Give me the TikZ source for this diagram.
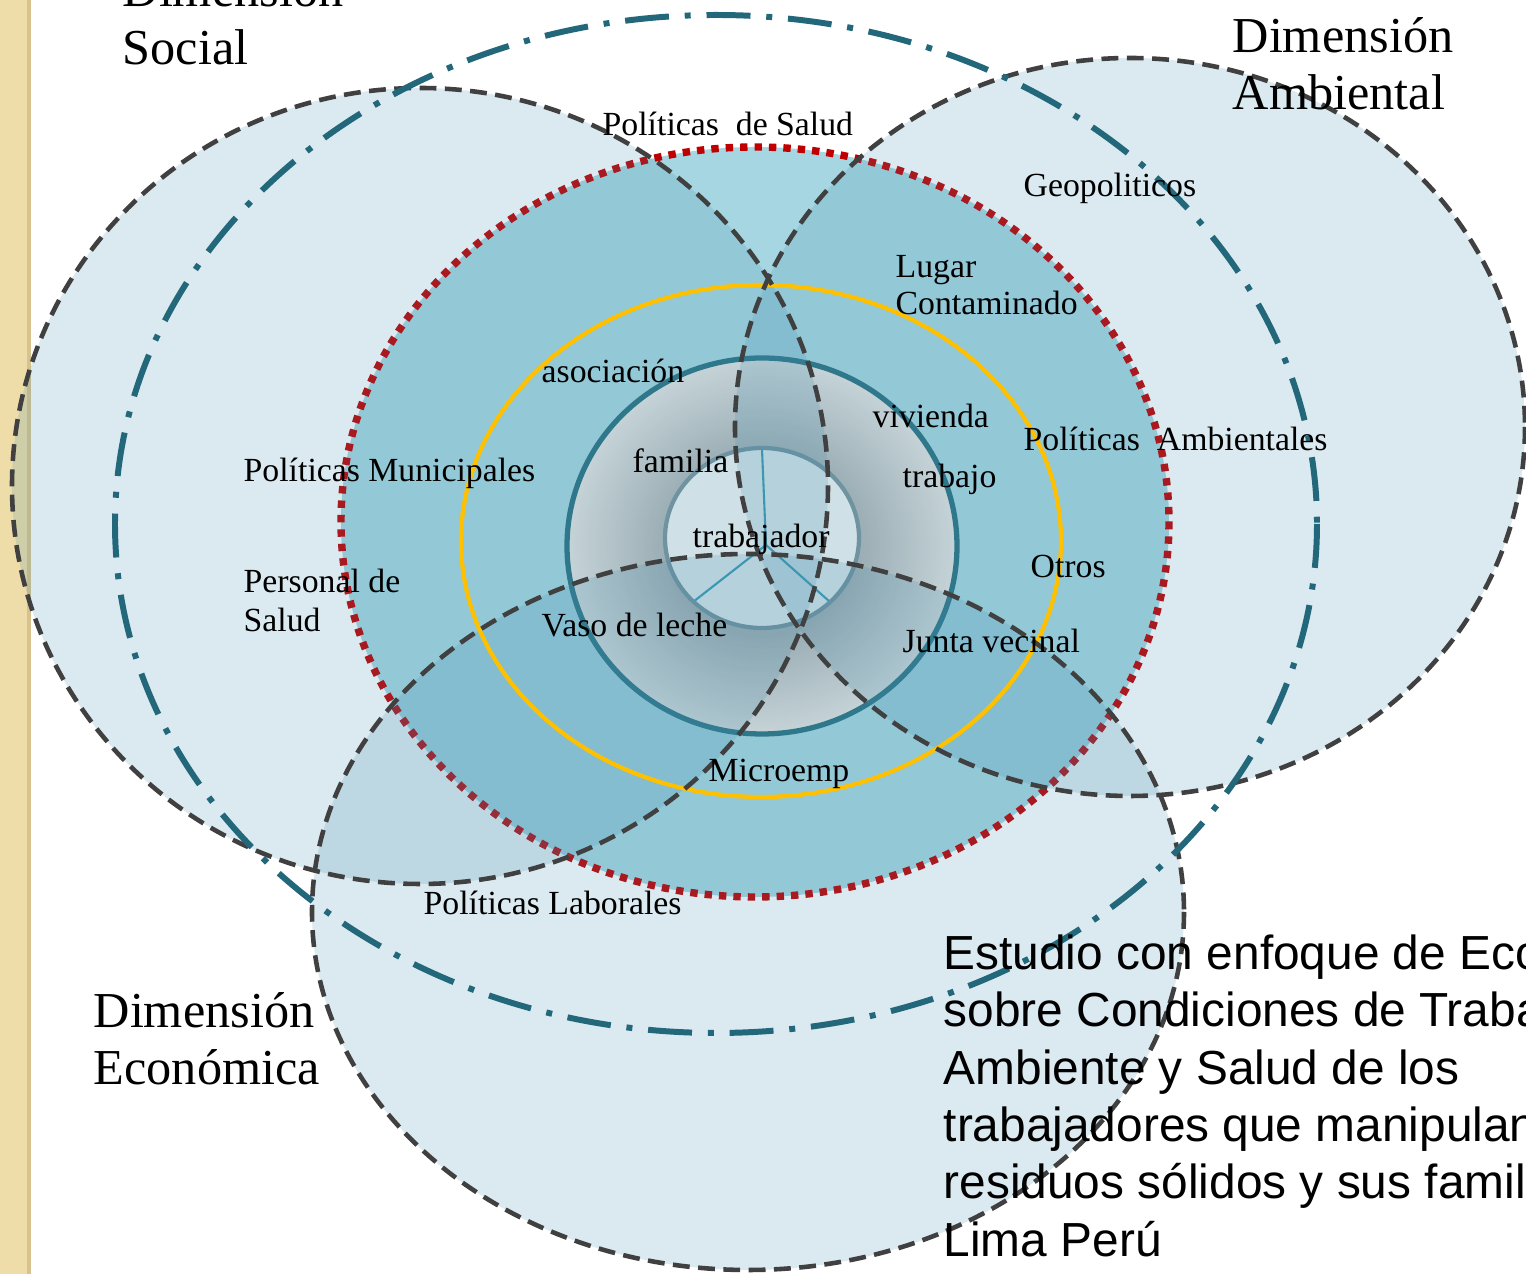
\documentclass[tikz,border=0pt]{standalone}
\usepackage{fontspec}
\setmainfont{Liberation Serif}
\newfontfamily\sansfam{Liberation Sans}
\usetikzlibrary{calc}
\definecolor{stripc}{HTML}{EFDDA9}
\definecolor{stripd}{HTML}{D8C38E}
\definecolor{redfill}{HTML}{A6D6E1}
\definecolor{reddot}{HTML}{C00000}
\definecolor{ovl}{RGB}{65,141,174}
\definecolor{dashgray}{HTML}{404040}
\definecolor{ddteal}{HTML}{22687A}
\definecolor{yel}{HTML}{FFC000}
\definecolor{ringstroke}{HTML}{2C7383}
\definecolor{ringin}{HTML}{AEB4B5}
\definecolor{ringout}{HTML}{E4E4E2}
\definecolor{innerfill}{HTML}{F0F4F4}
\definecolor{innerstroke}{HTML}{7A959D}
\definecolor{spoke}{HTML}{3A9DB5}
\pgfdeclareradialshading{ringshade}{\pgfpoint{0bp}{0bp}}{color(0bp)=(ringin); color(12bp)=(ringin); color(25bp)=(ringout); color(50bp)=(ringout)}
\tikzset{
  dimfill/.style={fill=ovl, fill opacity=0.184, draw=none},
  dimline/.style={draw=dashgray, line width=1.3pt, dash pattern=on 4.8pt off 2.4pt},
  lab/.style={font=\fontsize{9.6}{11}\selectfont, anchor=base west, inner sep=0pt, text=black},
  biglab/.style={font=\fontsize{14.3}{16}\selectfont, anchor=base west, inner sep=0pt, text=black},
  sanslab/.style={font=\sansfam\fontsize{13.6}{16}\selectfont, anchor=base west, inner sep=0pt, text=black},
  spokeline/.style={draw=spoke, line width=0.6pt}
}
\begin{document}
\begin{tikzpicture}[x=0.01cm,y=-0.01cm]
\path[use as bounding box] (0,0) rectangle (1526,1274);
\clip (0,0) rectangle (1526,1274);
\fill[white] (0,0) rectangle (1526,1274);
% left decorative strip
\fill[stripc] (0,0) rectangle (30,1274);
\draw[stripd, line width=1pt] (29,0) -- (29,1274);

% red dotted circle with fill
\fill[redfill] (755,522) ellipse [x radius=414, y radius=375];
\draw[reddot, line width=2.1pt, dash pattern=on 2.1pt off 2pt] (755,522) ellipse [x radius=414, y radius=375];

% ring
\shade[shading=ringshade] (762,546) ellipse [x radius=195, y radius=188];
\draw[ringstroke, line width=1.5pt] (762,546) ellipse [x radius=195, y radius=188];

% inner circle
\fill[innerfill] (762,538) ellipse [x radius=97, y radius=90];
\coordinate (hub) at (766,545);
\coordinate (sp1) at (762,449);
\coordinate (sp2) at (693,602);
\coordinate (sp3) at (830,602);
\draw[spokeline] (hub) -- (sp1);
\draw[spokeline] (hub) -- (sp2);
\draw[spokeline] (hub) -- (sp3);
\draw[innerstroke, line width=1.2pt] (762,538) ellipse [x radius=97, y radius=90];

% translucent dimension ellipses
\path[dimfill] (420,486) ellipse [x radius=408, y radius=398];
\path[dimfill] (1130,427) ellipse [x radius=395, y radius=369];
\path[dimfill] (748,912) ellipse [x radius=436, y radius=358];

% yellow ellipse (bright, above the tints)
\draw[yel, line width=1.2pt] (761,541) ellipse [x radius=300, y radius=256];

\path[dimline] (420,486) ellipse [x radius=408, y radius=398];
\path[dimline] (1130,427) ellipse [x radius=395, y radius=369];
\path[dimline] (748,912) ellipse [x radius=436, y radius=358];

% dash-dot ellipse
\draw[ddteal, line width=1.7pt, dash pattern=on 12.5pt off 4.5pt on 1.7pt off 4.5pt] (716,524) ellipse [x radius=601, y radius=509];

% big labels
\node[biglab] (ds1) at (122,7) {Dimensión};
\node[biglab] (ds2) at (122,65) {Social};
\node[biglab] (da1) at (1232,53) {Dimensión};
\node[biglab] (da2) at (1232,110) {Ambiental};
\node[biglab] (de1) at (93,1028) {Dimensión};
\node[biglab] (de2) at (93,1085) {Económica};

% small labels
\node[lab] (psalud) at (602,136) {Políticas\ \ de Salud};
\node[lab] (geo) at (1023,197) {Geopoliticos};
\node[lab] (lug1) at (895,278) {Lugar};
\node[lab] (lug2) at (895,315) {Contaminado};
\node[lab] (asoc) at (541,383) {asociación};
\node[lab] (viv) at (872,428) {vivienda};
\node[lab] (pamb) at (1023,451) {Políticas\ \ Ambientales};
\node[lab] (pmun) at (243,482) {Políticas Municipales};
\node[lab] (fam) at (632,473) {familia};
\node[lab] (trab) at (902,488) {trabajo};
\node[lab] (trabr) at (692,548) {trabajador};
\node[lab] (otros) at (1030,578) {Otros};
\node[lab] (pers1) at (243,593) {Personal de};
\node[lab] (pers2) at (243,632) {Salud};
\node[lab] (vaso) at (541,637) {Vaso de leche};
\node[lab] (junta) at (902,653) {Junta vecinal};
\node[lab] (micro) at (708,782) {Microemp};
\node[lab] (plab) at (423,915) {Políticas Laborales};

% study text (clipped at right edge, as in the reference)
\node[sanslab] (st1) at (943,970) {Estudio con enfoque de Ecosalud};
\node[sanslab] (st2) at (943,1027) {sobre Condiciones de Trabajo,};
\node[sanslab] (st3) at (943,1085) {Ambiente y Salud de los};
\node[sanslab] (st4) at (943,1142) {trabajadores que manipulan};
\node[sanslab] (st5) at (943,1199) {residuos sólidos y sus familias.};
\node[sanslab] (st6) at (943,1257) {Lima Perú};
\end{tikzpicture}
\end{document}
